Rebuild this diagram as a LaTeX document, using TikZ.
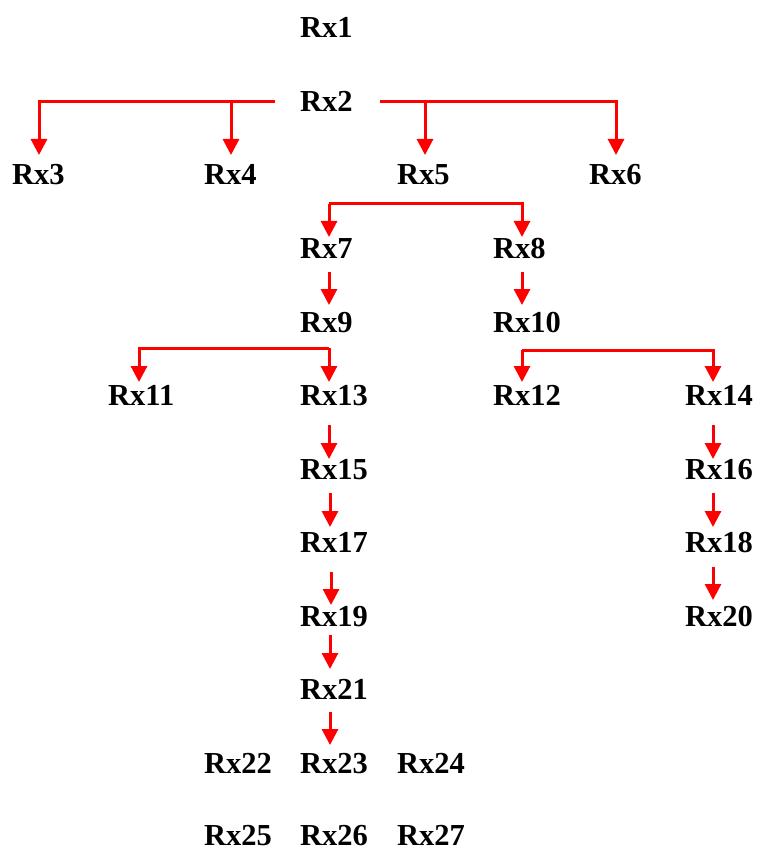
\documentclass[tikz,border=0pt]{standalone}
\usepackage{fontspec}
\setmainfont{Liberation Serif}
\usetikzlibrary{arrows.meta}
\tikzset{
  lab/.style={inner sep=0pt, anchor=base west, font=\fontsize{30.5}{36}\selectfont\bfseries},
  edge/.style={draw=red, line width=3pt, -{Triangle[length=16pt,width=16pt]}},
  bar/.style={draw=red, line width=3pt}
}
\begin{document}
\begin{tikzpicture}[x=1pt,y=1pt]
\useasboundingbox (0,0) rectangle (758,-850);
% nodes
\node[lab] (rx1) at (300,-37.5) {Rx1};
\node[lab] (rx2) at (300,-111.5) {Rx2};
\node[lab] (rx3) at (12,-185) {Rx3};
\node[lab] (rx4) at (204,-185) {Rx4};
\node[lab] (rx5) at (397,-185) {Rx5};
\node[lab] (rx6) at (589,-185) {Rx6};
\node[lab] (rx7) at (300,-258.5) {Rx7};
\node[lab] (rx8) at (493,-258.5) {Rx8};
\node[lab] (rx9) at (300,-332) {Rx9};
\node[lab] (rx10) at (493,-332) {Rx10};
\node[lab] (rx11) at (108,-405.5) {Rx11};
\node[lab] (rx13) at (300,-405.5) {Rx13};
\node[lab] (rx12) at (493,-405.5) {Rx12};
\node[lab] (rx14) at (685,-405.5) {Rx14};
\node[lab] (rx15) at (300,-479) {Rx15};
\node[lab] (rx16) at (685,-479) {Rx16};
\node[lab] (rx17) at (300,-552.5) {Rx17};
\node[lab] (rx18) at (685,-552.5) {Rx18};
\node[lab] (rx19) at (300,-626) {Rx19};
\node[lab] (rx20) at (685,-626) {Rx20};
\node[lab] (rx21) at (300,-699.5) {Rx21};
\node[lab] (rx22) at (204,-773) {Rx22};
\node[lab] (rx23) at (300,-773) {Rx23};
\node[lab] (rx24) at (397,-773) {Rx24};
\node[lab] (rx25) at (204,-845.5) {Rx25};
\node[lab] (rx26) at (300,-845.5) {Rx26};
\node[lab] (rx27) at (397,-845.5) {Rx27};
% arrow tip coordinates
\coordinate (t3) at ([shift={(27,30)}]rx3.base west);
\coordinate (t4) at ([shift={(27,30)}]rx4.base west);
\coordinate (t5) at ([shift={(28,30)}]rx5.base west);
\coordinate (t6) at ([shift={(27,30)}]rx6.base west);
\coordinate (t7) at ([shift={(29,21.5)}]rx7.base west);
\coordinate (t8) at ([shift={(29,21.5)}]rx8.base west);
\coordinate (t9) at ([shift={(29,27)}]rx9.base west);
\coordinate (t10) at ([shift={(29,27)}]rx10.base west);
\coordinate (t11) at ([shift={(31,23.5)}]rx11.base west);
\coordinate (t13) at ([shift={(29,23.5)}]rx13.base west);
\coordinate (t12) at ([shift={(29,23.5)}]rx12.base west);
\coordinate (t14) at ([shift={(28,23.5)}]rx14.base west);
\coordinate (t15) at ([shift={(29,20)}]rx15.base west);
\coordinate (t17) at ([shift={(30,25.5)}]rx17.base west);
\coordinate (t19) at ([shift={(31,21)}]rx19.base west);
\coordinate (t21) at ([shift={(30,30.5)}]rx21.base west);
\coordinate (t23) at ([shift={(30,28)}]rx23.base west);
\coordinate (t16) at ([shift={(28,20)}]rx16.base west);
\coordinate (t18) at ([shift={(28,25.5)}]rx18.base west);
\coordinate (t20) at ([shift={(28,26)}]rx20.base west);
% Rx2 branches
\coordinate (l2) at ([shift={(-25,9.5)}]rx2.base west);
\coordinate (r2) at ([shift={(80,9.5)}]rx2.base west);
\draw[edge] (l2) -| (t3);
\draw[edge] (l2 -| t4) -- (t4);
\draw[edge] (r2) -| (t6);
\draw[edge] (r2 -| t5) -- (t5);
% Rx5 branches
\coordinate (b5) at ([shift={(0,-19)}]rx5.base west);
\draw[edge] (b5 -| t7) -| (t8);
\draw[edge] (b5 -| t7) -- (t7);
% Rx9 branches
\coordinate (b9) at ([shift={(0,-16)}]rx9.base west);
\draw[edge] (b9 -| t13) -| (t11);
\draw[edge] (b9 -| t13) -- (t13);
% Rx10 branches
\coordinate (b10) at ([shift={(0,-18)}]rx10.base west);
\draw[edge] (b10 -| t12) -| (t14);
\draw[edge] (b10 -| t12) -- (t12);
% verticals
\draw[edge] ([shift={(29,-13.5)}]rx7.base west) -- (t9);
\draw[edge] ([shift={(29,-13.5)}]rx8.base west) -- (t10);
\draw[edge] ([shift={(29,-19.5)}]rx13.base west) -- (t15);
\draw[edge] ([shift={(30,-14)}]rx15.base west) -- (t17);
\draw[edge] ([shift={(31,-19.5)}]rx17.base west) -- (t19);
\draw[edge] ([shift={(30,-9)}]rx19.base west) -- (t21);
\draw[edge] ([shift={(30,-12.5)}]rx21.base west) -- (t23);
\draw[edge] ([shift={(28,-19.5)}]rx14.base west) -- (t16);
\draw[edge] ([shift={(28,-14)}]rx16.base west) -- (t18);
\draw[edge] ([shift={(28,-14.5)}]rx18.base west) -- (t20);
\end{tikzpicture}
\end{document}
